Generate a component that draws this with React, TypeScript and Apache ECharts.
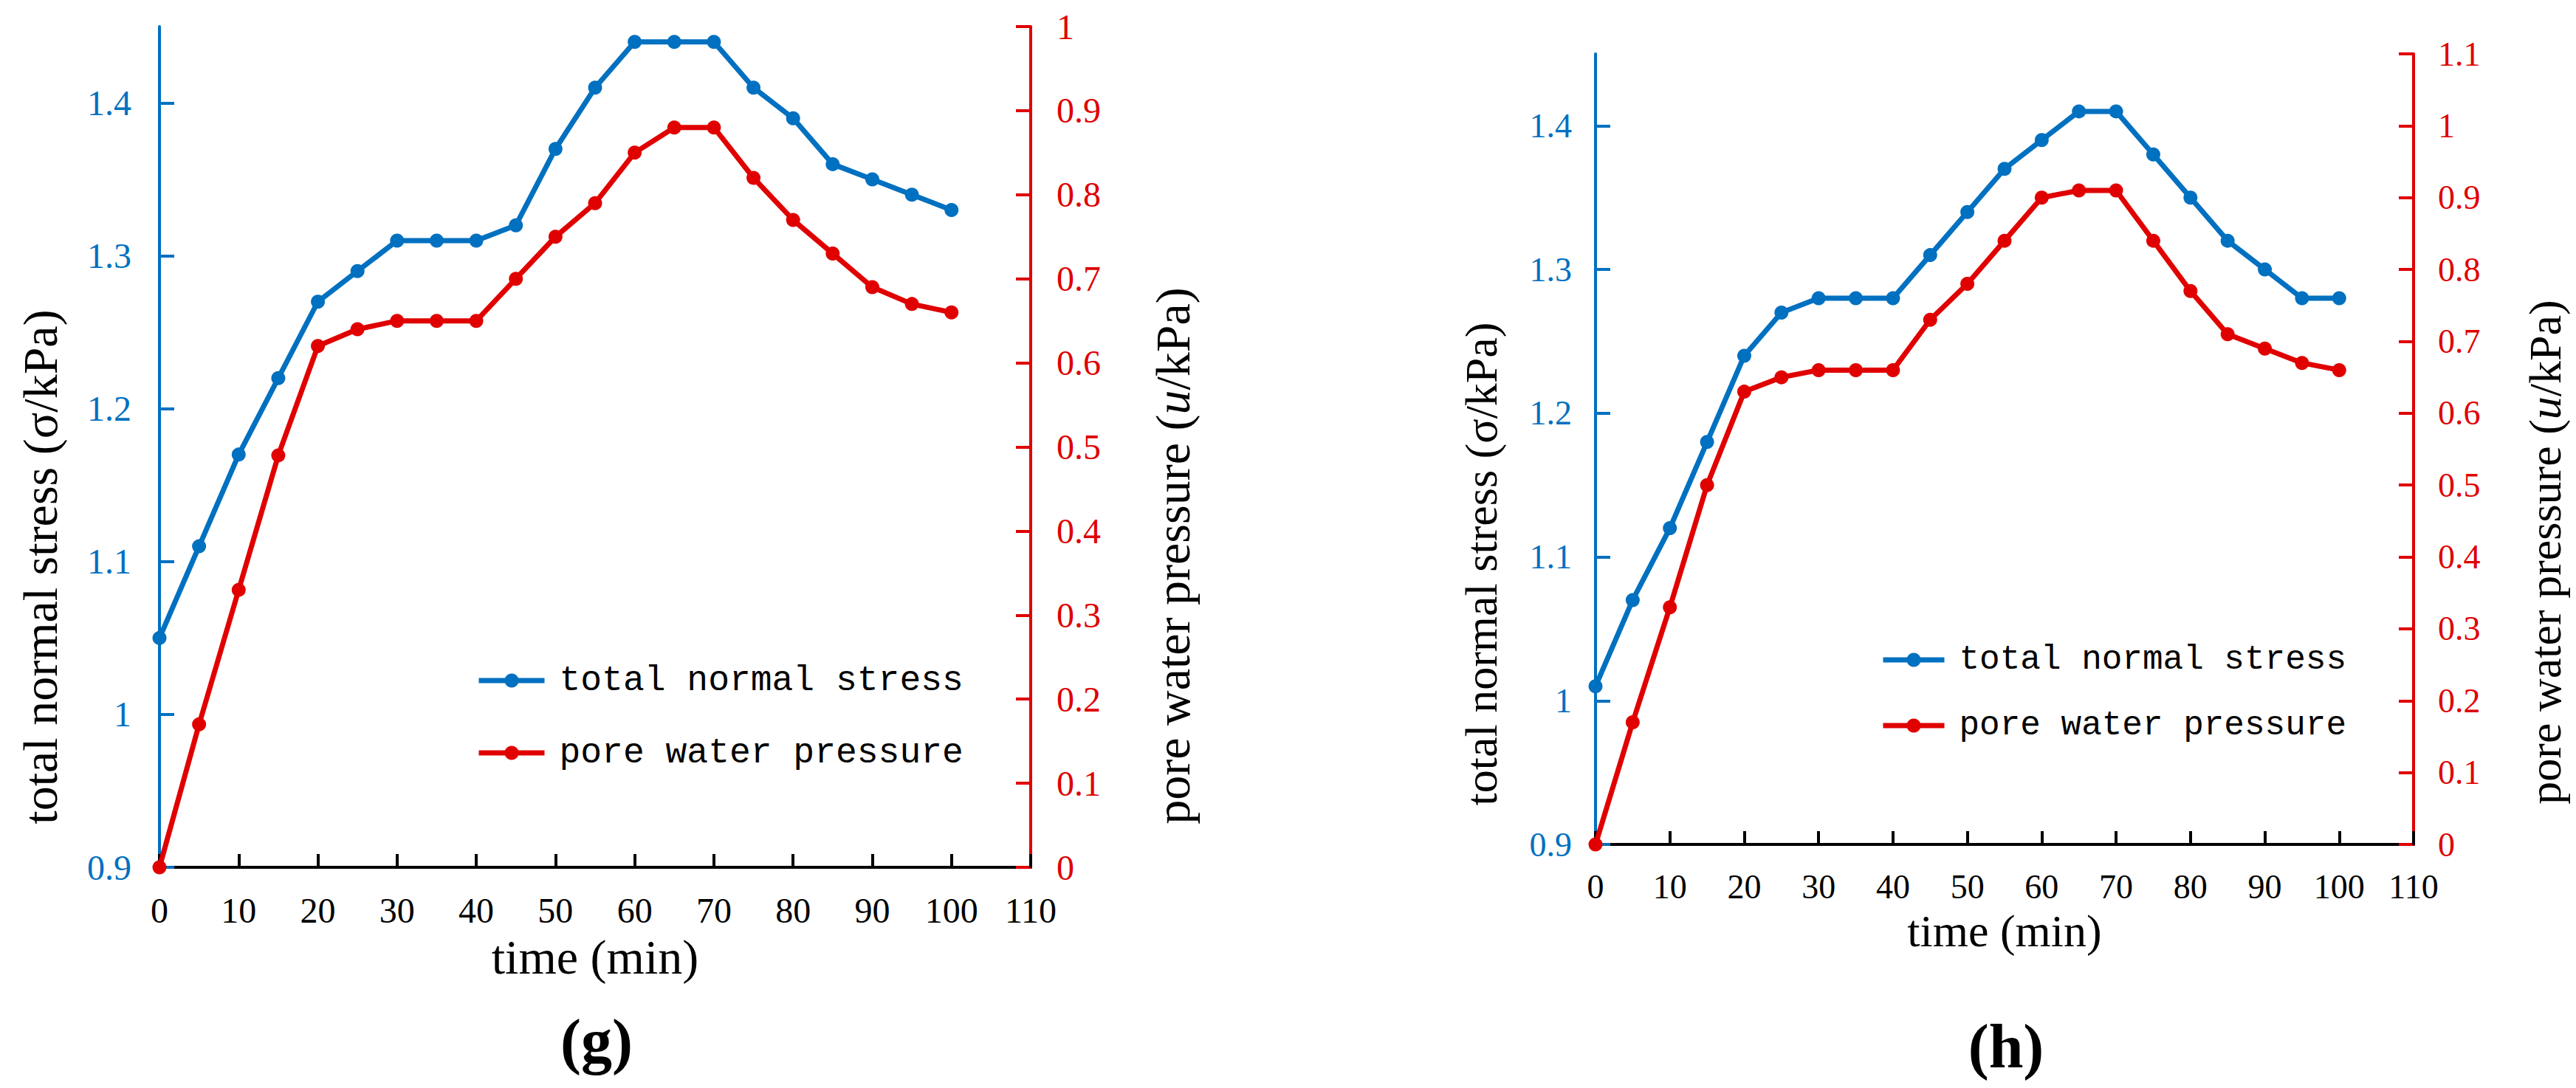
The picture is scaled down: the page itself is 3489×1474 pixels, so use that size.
import React, { useEffect, useRef } from "react";
import * as echarts from "echarts";

// ---- data ----
const timeMin = [0, 5, 10, 15, 20, 25, 30, 35, 40, 45, 50, 55, 60, 65, 70, 75, 80, 85, 90, 95, 100];

const stressG = [1.05, 1.11, 1.17, 1.22, 1.27, 1.29, 1.31, 1.31, 1.31, 1.32, 1.37, 1.41, 1.44, 1.44, 1.44, 1.41, 1.39, 1.36, 1.35, 1.34, 1.33];
const poreG = [0, 0.17, 0.33, 0.49, 0.62, 0.64, 0.65, 0.65, 0.65, 0.7, 0.75, 0.79, 0.85, 0.88, 0.88, 0.82, 0.77, 0.73, 0.69, 0.67, 0.66];

const stressH = [1.01, 1.07, 1.12, 1.18, 1.24, 1.27, 1.28, 1.28, 1.28, 1.31, 1.34, 1.37, 1.39, 1.41, 1.41, 1.38, 1.35, 1.32, 1.3, 1.28, 1.28];
const poreH = [0, 0.17, 0.33, 0.5, 0.63, 0.65, 0.66, 0.66, 0.66, 0.73, 0.78, 0.84, 0.9, 0.91, 0.91, 0.84, 0.77, 0.71, 0.69, 0.67, 0.66];

const stressTicks = [0.9, 1, 1.1, 1.2, 1.3, 1.4];
const poreTicksG = [0, 0.1, 0.2, 0.3, 0.4, 0.5, 0.6, 0.7, 0.8, 0.9, 1];
const poreTicksH = [0, 0.1, 0.2, 0.3, 0.4, 0.5, 0.6, 0.7, 0.8, 0.9, 1, 1.1];

const seriesNames = ["total normal stress", "pore water pressure"];
const xTitle = "time (min)";
const leftTitle = "total normal stress (σ/kPa)";
const rightTitle = "pore water pressure ({i|u}/kPa)";
const panelLabels = ["(g)", "(h)"];

const BLUE = "#0070C0";
const RED = "#E00000";
const SERIF = "Liberation Serif";
const MONO = "Liberation Mono";

const pairs = (ys: number[]) => timeMin.map((t, i) => [t, ys[i]]);

function xAxisCfg(grid: number, fs: number, titleFs: number, nameGap: number) {
  return {
    type: "value",
    gridIndex: grid,
    min: 0,
    max: 110,
    interval: 10,
    axisLine: { show: true, onZero: false, lineStyle: { color: "#000", width: 4 } },
    axisTick: { show: true, inside: true, length: 18, lineStyle: { color: "#000", width: 4 } },
    axisLabel: { color: "#000", fontSize: fs, fontFamily: SERIF, margin: 34 },
    splitLine: { show: false },
    name: xTitle,
    nameLocation: "middle",
    nameGap,
    nameTextStyle: { color: "#000", fontSize: titleFs, fontFamily: SERIF },
  };
}

function yAxisCfg(grid: number, pos: string, min: number, max: number, color: string, ticks: number[], fs: number, margin: number) {
  return {
    type: "value",
    gridIndex: grid,
    position: pos,
    min,
    max,
    interval: 0.1,
    axisLine: { show: true, onZero: false, lineStyle: { color, width: 4 } },
    axisTick: { show: true, inside: true, length: 20, customValues: ticks, lineStyle: { color, width: 4 } },
    axisLabel: { color, fontSize: fs, fontFamily: SERIF, fontStyle: "normal", fontWeight: "normal", margin, customValues: ticks },
    splitLine: { show: false },
  };
}

function lineSeries(name: string, data: number[][], color: string, xi: number, yi: number) {
  return {
    type: "line",
    name,
    xAxisIndex: xi,
    yAxisIndex: yi,
    data,
    symbol: "circle",
    symbolSize: 19,
    lineStyle: { width: 7, color },
    itemStyle: { color },
    z: color === RED ? 4 : 3,
  };
}

function legendCfg(name: string, left: number, top: number, w: number, fs: number) {
  return {
    data: [name],
    left,
    top,
    padding: 0,
    itemWidth: w,
    itemHeight: 24,
    selectedMode: false,
    lineStyle: { width: 7 },
    textStyle: { color: "#000", fontFamily: MONO, fontSize: fs, padding: [0, 0, 0, 15] },
  };
}

function titleText(text: string, x: number, y: number, fs: number, rotate: boolean, bold = false) {
  const font = `${bold ? "bold " : ""}${fs}px "${SERIF}"`;
  const style: any = {
    text,
    fill: "#000",
    font,
    align: "center",
    verticalAlign: "middle",
  };
  if (text.indexOf("{") >= 0) {
    style.rich = {
      n: { font, fill: "#000" },
      i: { font: `italic ${fs}px "${SERIF}"`, fill: "#000" },
    };
    style.text = "{n|" + text.replace("{i|u}", "}{i|u}{n|") + "}";
  }
  return {
    type: "text",
    x,
    y,
    rotation: rotate ? Math.PI / 2 : 0,
    style,
  };
}

export default function App() {
  const ref = useRef<HTMLDivElement>(null);
  useEffect(() => {
    if (!ref.current) return;
    const chart = echarts.init(ref.current, undefined, { renderer: "svg" });
    chart.setOption({
      animation: false,
      backgroundColor: "#fff",
      textStyle: { fontFamily: SERIF },
      grid: [
        { left: 216, top: 36, width: 1180, height: 1139 },
        { left: 2161, top: 73, width: 1108, height: 1071 },
      ],
      xAxis: [xAxisCfg(0, 48, 66, 88), xAxisCfg(1, 46, 62, 86)],
      yAxis: [
        yAxisCfg(0, "left", 0.9, 1.45, BLUE, stressTicks, 48, 38),
        yAxisCfg(0, "right", 0, 1, RED, poreTicksG, 48, 35),
        yAxisCfg(1, "left", 0.9, 1.45, BLUE, stressTicks, 46, 32),
        yAxisCfg(1, "right", 0, 1.1, RED, poreTicksH, 46, 33),
      ],
      legend: [
        legendCfg(seriesNames[0], 645, 898, 89, 48),
        legendCfg(seriesNames[1], 645, 996, 89, 48),
        legendCfg(seriesNames[0], 2547, 871, 83, 46),
        legendCfg(seriesNames[1], 2547, 960, 83, 46),
      ],
      series: [
        lineSeries(seriesNames[0], pairs(stressG), BLUE, 0, 0),
        lineSeries(seriesNames[1], pairs(poreG), RED, 0, 1),
        lineSeries(seriesNames[0], pairs(stressH), BLUE, 1, 2),
        lineSeries(seriesNames[1], pairs(poreH), RED, 1, 3),
      ],
      graphic: [
        titleText(leftTitle, 54, 768, 66, true),
        titleText(rightTitle, 1588, 753, 66, true),
        titleText(leftTitle, 2006, 764, 62, true),
        titleText(rightTitle, 3447, 748, 62, true),
        titleText(panelLabels[0], 808, 1410, 84, false, true),
        titleText(panelLabels[1], 2717, 1417, 84, false, true),
      ],
    });
    return () => chart.dispose();
  }, []);
  return (
    <div
      ref={ref}
      style={{ position: "fixed", left: 0, top: 0, width: 3489, height: 1474, background: "#fff" }}
    />
  );
}
